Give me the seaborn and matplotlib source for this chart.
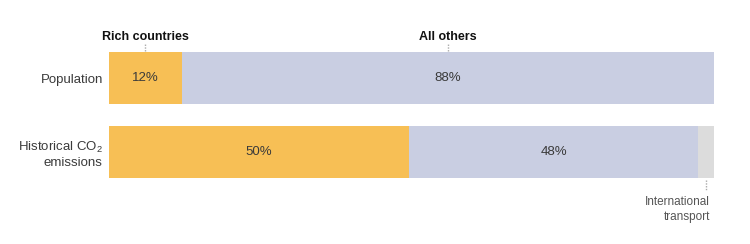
import matplotlib
matplotlib.use("Agg")
import matplotlib.pyplot as plt
import seaborn as sns
import numpy as np
import pandas as pd

categories = ["Population", "Historical CO$_2$\nemissions"]
rich = [12.0, 49.6]
others = [88.0, 47.8]
transport = [0.0, 2.6]
rich_labels = ["12%", "50%"]
other_labels = ["88%", "48%"]

sns.set_theme(style="white")
plt.rcParams["font.family"] = ["Liberation Sans", "DejaVu Sans"]
plt.rcParams["mathtext.fontset"] = "custom"
plt.rcParams["mathtext.rm"] = "Liberation Sans"
plt.rcParams["mathtext.it"] = "Liberation Sans:italic"
plt.rcParams["mathtext.bf"] = "Liberation Sans:bold"

C_RICH = "#F7BF55"
C_OTH = "#C9CEE2"
C_TR = "#DCDCDC"
TXT = "#3A3A3A"

fig = plt.figure(figsize=(7.5, 2.44), dpi=100)
ax = fig.add_axes([109 / 750, 1 - 190 / 244, (714 - 109) / 750, 150 / 244])

df = pd.DataFrame({"cat": categories, "rich": rich, "others": others, "transport": transport})
df["left_o"] = df["rich"]
df["left_t"] = df["rich"] + df["others"]

w = 52 / 74
sns.barplot(data=df, y="cat", x="rich", orient="h", color=C_RICH, width=w,
            saturation=1, ax=ax, linewidth=0)
sns.barplot(data=df, y="cat", x="others", orient="h", color=C_OTH, width=w,
            saturation=1, ax=ax, linewidth=0, left=df["left_o"].values)
sns.barplot(data=df, y="cat", x="transport", orient="h", color=C_TR, width=w,
            saturation=1, ax=ax, linewidth=0, left=df["left_t"].values)

ax.set_xlim(0, 100)
ax.set_ylim(1.514, -0.514)
ax.set_xlabel("")
ax.set_ylabel("")
ax.set_xticks([])
for s in ax.spines.values():
    s.set_visible(False)
ax.tick_params(axis="y", length=0, pad=4.5, labelsize=9.5, labelcolor=TXT)
for lab in ax.get_yticklabels():
    lab.set_horizontalalignment("right")
    lab.set_multialignment("right")

# segment value labels
for i in range(len(categories)):
    ax.text(rich[i] / 2, i, rich_labels[i], ha="center", va="center", fontsize=9.5, color=TXT)
    ax.text(rich[i] + others[i] / 2, i, other_labels[i], ha="center", va="center",
            fontsize=9.5, color=TXT)

# header labels with small leader ticks
y_top = -w / 2
xr = rich[0] / 2
xo = rich[0] + others[0] / 2
for xx, t in [(xr, "Rich countries"), (xo, "All others")]:
    ax.plot([xx, xx], [y_top - 0.015, y_top - 0.12], color="#AAAAAA", lw=1,
            ls=(0, (1, 1)), clip_on=False)
    ax.text(xx, y_top - 0.16, t, ha="center", va="baseline", fontsize=9,
            fontweight="bold", color="#111111", clip_on=False)

# international transport annotation
xt = rich[1] + others[1] + transport[1] / 2
y_bot = 1 + w / 2
ax.plot([xt, xt], [y_bot + 0.03, y_bot + 0.16], color="#AAAAAA", lw=1,
        ls=(0, (1, 1)), clip_on=False)
ax.text(xt + 0.6, y_bot + 0.25, "International\ntransport", ha="right", va="top",
        fontsize=8.5, color="#555555", linespacing=1.3, clip_on=False)

fig.savefig("out.png", dpi=100)
